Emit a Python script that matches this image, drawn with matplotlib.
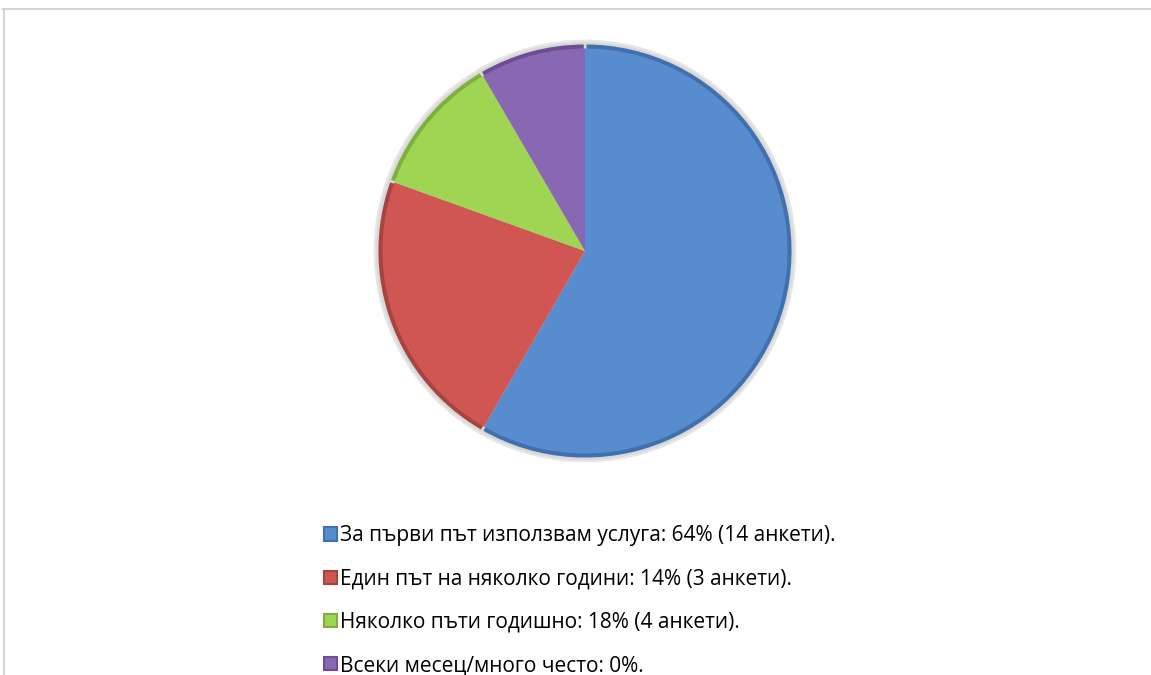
import matplotlib.pyplot as plt
from matplotlib.patches import Rectangle
from matplotlib.lines import Line2D

# slice sizes as drawn in the picture (share of the circle, %)
shares = [58.3, 22.2, 11.1, 8.4]
labels = [
    "За първи път използвам услуга: 64% (14 анкети).",
    "Един път на няколко години: 14% (3 анкети).",
    "Няколко пъти годишно: 18% (4 анкети).",
    "Всеки месец/много често: 0%.",
]
colors = ["#578ccf", "#cf5652", "#9fd553", "#8868b2"]
edge_colors = ["#4170ad", "#a8433f", "#7fb03f", "#6a4f92"]

W, H = 1151, 675
fig = plt.figure(figsize=(W / 100, H / 100), dpi=100)
fig.patch.set_facecolor("white")

# thin frame of the chart area (top and left visible)
fig.add_artist(Line2D([3 / W, 1], [1 - 9 / H, 1 - 9 / H], color="#d4d4d4", lw=1.5))
fig.add_artist(Line2D([3.5 / W, 3.5 / W], [0, 1 - 9 / H], color="#d4d4d4", lw=1.5))

cx, cy, r = 585, 251, 212
ax = fig.add_axes([(cx - r) / W, (H - cy - r) / H, 2 * r / W, 2 * r / H])
ax.set_aspect("equal")

# outer soft grey rim
ax.pie(shares, radius=1.0, startangle=90, counterclock=False,
       colors=["#c8c8c8"] * 4, wedgeprops=dict(edgecolor="#e6e6e6", linewidth=2))
# darker bevel shade
ax.pie(shares, radius=0.99, startangle=90, counterclock=False,
       colors=edge_colors, wedgeprops=dict(edgecolor="#d9d9d9", linewidth=1.8))
# main faces
wedges, _ = ax.pie(shares, radius=0.965, startangle=90, counterclock=False,
                   colors=colors, wedgeprops=dict(edgecolor="none"))
ax.set_xlim(-1.01, 1.01)
ax.set_ylim(-1.01, 1.01)
ax.axis("off")

handles = [Rectangle((0, 0), 1, 1, facecolor=c, edgecolor=e, lw=1.5)
           for c, e in zip(colors, edge_colors)]
fig.legend(handles, labels, loc="upper left",
           bbox_to_anchor=(316 / W, 1 - 517 / H),
           frameon=False, prop={"family": "Open Sans", "size": 15},
           handlelength=0.6, handleheight=0.6, handletextpad=0.15,
           labelspacing=1.07, borderaxespad=0)

fig.savefig("out.png", dpi=100, facecolor="white")
